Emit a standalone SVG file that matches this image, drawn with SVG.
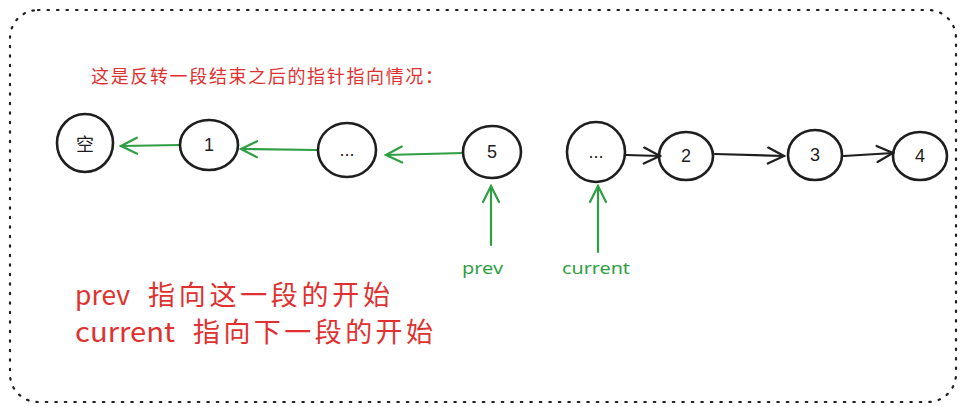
<svg xmlns="http://www.w3.org/2000/svg" width="965" height="411" viewBox="0 0 965 411">
<defs>
<style>
.node{fill:none;stroke:#1e1e1e;stroke-width:2.6}
.lbl{font-family:"Liberation Sans","Noto Sans CJK SC",sans-serif;font-size:18px;fill:#1e1e1e;text-anchor:middle;dominant-baseline:central}
.g{stroke:#2f9e44;stroke-width:2.2;fill:none;stroke-linecap:round}
.k{stroke:#1e1e1e;stroke-width:2.2;fill:none;stroke-linecap:round}
.red{font-family:"Noto Sans CJK SC",sans-serif;fill:#e03131}
.grn{font-family:"Noto Sans","Noto Sans CJK SC",sans-serif;fill:#2f9e44;font-size:16px}
</style>
<marker id="ag" viewBox="0 0 20 20" refX="18" refY="10" markerWidth="20" markerHeight="20" markerUnits="userSpaceOnUse" orient="auto">
<path d="M2 2 L18 10 L2 18" fill="none" stroke="#2f9e44" stroke-width="2.2" stroke-linecap="round"/>
</marker>
<marker id="ak" viewBox="0 0 20 20" refX="18" refY="10" markerWidth="20" markerHeight="20" markerUnits="userSpaceOnUse" orient="auto">
<path d="M2 2 L18 10 L2 18" fill="none" stroke="#1e1e1e" stroke-width="2.2" stroke-linecap="round"/>
</marker>
</defs>
<rect x="10" y="10" width="946" height="392" rx="28" ry="28" fill="none" stroke="#1e1e1e" stroke-width="2.2" stroke-dasharray="1.5 8" stroke-linecap="round"/>
<text class="red" x="91" y="83" font-size="18" textLength="352" lengthAdjust="spacing">这是反转一段结束之后的指针指向情况：</text>
<g id="connectors">
<line class="g" x1="180" y1="145" x2="121" y2="146" marker-end="url(#ag)"/>
<line class="g" x1="318" y1="150" x2="241" y2="149" stroke-width="3.5" marker-end="url(#ag)"/>
<line class="g" x1="463" y1="153" x2="386" y2="155" marker-end="url(#ag)"/>
<line class="g" x1="491" y1="245" x2="491" y2="186" marker-end="url(#ag)"/>
<line class="g" x1="598" y1="252" x2="598" y2="186" marker-end="url(#ag)"/>
<line class="k" x1="626" y1="155" x2="660" y2="156" marker-end="url(#ak)"/>
<line class="k" x1="715" y1="154" x2="784" y2="156" marker-end="url(#ak)"/>
<line class="k" x1="844" y1="156" x2="893" y2="153" marker-end="url(#ak)"/>
</g>
<g id="n-empty"><ellipse class="node" cx="85" cy="143" rx="28" ry="29"/><text class="lbl" x="85" y="143" style="font-family:'Noto Sans CJK SC',sans-serif">空</text></g>
<g id="n-1"><ellipse class="node" cx="209" cy="145" rx="29" ry="25"/><text class="lbl" x="209" y="145">1</text></g>
<g id="n-dots1"><ellipse class="node" cx="347" cy="150" rx="29" ry="27"/><text class="lbl" x="347" y="150">...</text></g>
<g id="n-5"><ellipse class="node" cx="492" cy="152" rx="29" ry="26"/><text class="lbl" x="492" y="152">5</text></g>
<g id="n-dots2"><ellipse class="node" cx="596" cy="152" rx="29" ry="30"/><text class="lbl" x="596" y="152">...</text></g>
<g id="n-2"><ellipse class="node" cx="686" cy="156" rx="27" ry="24"/><text class="lbl" x="686" y="156">2</text></g>
<g id="n-3"><ellipse class="node" cx="815" cy="155" rx="27" ry="25"/><text class="lbl" x="815" y="155">3</text></g>
<g id="n-4"><ellipse class="node" cx="920" cy="156" rx="27" ry="24"/><text class="lbl" x="920" y="156">4</text></g>
<text class="grn" x="462" y="274" textLength="41" lengthAdjust="spacingAndGlyphs">prev</text>
<text class="grn" x="562" y="274" textLength="68" lengthAdjust="spacingAndGlyphs">current</text>
<text class="red" x="75" y="305" font-size="27" textLength="55" lengthAdjust="spacingAndGlyphs">prev</text>
<text class="red" x="148" y="305" font-size="27" textLength="242" lengthAdjust="spacing">指向这一段的开始</text>
<text class="red" x="75" y="342" font-size="27" textLength="100" lengthAdjust="spacingAndGlyphs">current</text>
<text class="red" x="193" y="342" font-size="27" textLength="240" lengthAdjust="spacing">指向下一段的开始</text>
</svg>
